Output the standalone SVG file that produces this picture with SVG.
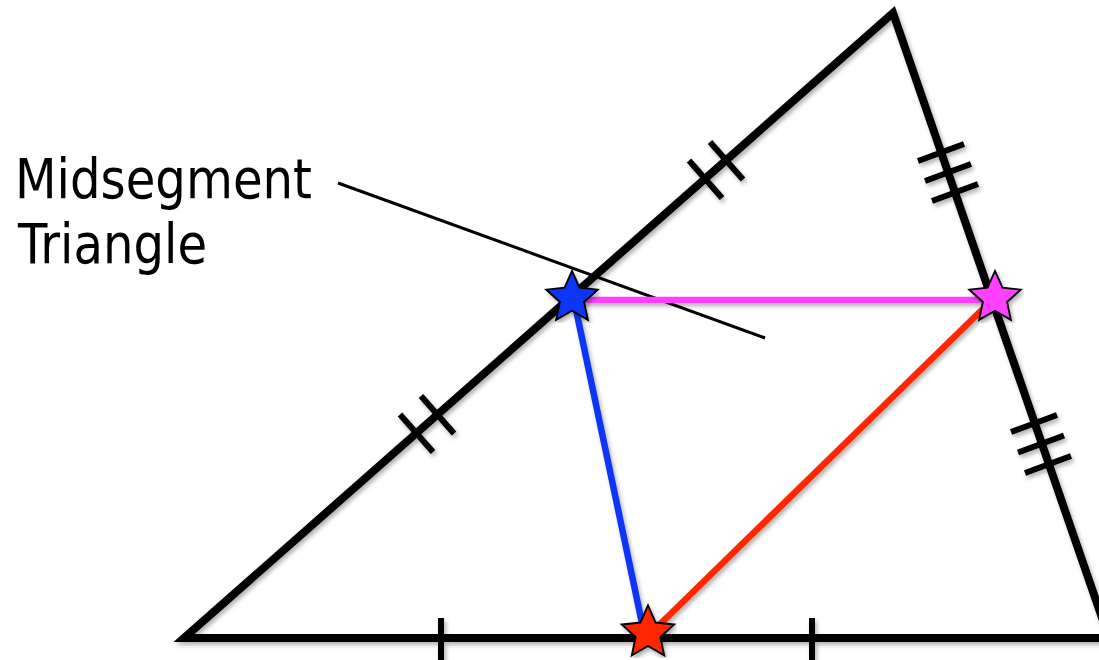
<svg xmlns="http://www.w3.org/2000/svg" xmlns:xlink="http://www.w3.org/1999/xlink" width="1099" height="660" viewBox="0 0 1099 660">
<style>
.edge{fill:none;stroke:#000;stroke-width:8;stroke-linejoin:miter;stroke-linecap:square}
.tick{stroke:#000;stroke-width:6;stroke-linecap:butt}
.seg{fill:none;stroke-width:6.5;stroke-linecap:butt}
.star{stroke:#000;stroke-width:1.8;stroke-linejoin:miter}
.label{font-family:"DejaVu Sans","Liberation Sans",sans-serif;font-size:56px;fill:#000}
</style>
<defs>
<filter id="sh" x="-5%" y="-5%" width="110%" height="110%">
<feDropShadow dx="2" dy="3" stdDeviation="2" flood-color="#000" flood-opacity="0.3"/>
</filter>
<path id="starShape" d="M0,-26 L7.18,-9.89 L24.73,-8.03 L11.63,3.78 L15.28,21.03 L0,12.22 L-15.28,21.03 L-11.63,3.78 L-24.73,-8.03 L-7.18,-9.89 Z"/>
</defs>
<rect width="1099" height="660" fill="#fff"/>
<g id="triangle" filter="url(#sh)">
<path class="edge" d="M184,638 L893,13 L1109,638 Z"/>
<line class="tick" x1="400" y1="414.5" x2="433" y2="452"/>
<line class="tick" x1="421" y1="396" x2="454" y2="433.5"/>
<line class="tick" x1="689" y1="160.5" x2="722" y2="198"/>
<line class="tick" x1="710" y1="142" x2="743" y2="179.5"/>
<line class="tick" x1="918" y1="161" x2="964" y2="144"/>
<line class="tick" x1="925" y1="181" x2="971" y2="164"/>
<line class="tick" x1="932" y1="201" x2="978" y2="184"/>
<line class="tick" x1="1011" y1="432" x2="1057" y2="415"/>
<line class="tick" x1="1018" y1="452.5" x2="1064" y2="435.5"/>
<line class="tick" x1="1025" y1="473" x2="1071" y2="456"/>
<line class="tick" x1="441" y1="618" x2="441" y2="660"/>
<line class="tick" x1="812" y1="618" x2="812" y2="660"/>
</g>
<g id="connectors">
<line x1="338" y1="183" x2="765" y2="338" stroke="#000" stroke-width="3"/>
<g filter="url(#sh)">
<line class="seg" x1="574" y1="300" x2="992" y2="300" stroke="#FF40FF"/>
<line class="seg" x1="574" y1="300" x2="643" y2="628" stroke="#1034F5"/>
<line class="seg" x1="990" y1="302" x2="652" y2="632" stroke="#FF2600"/>
</g>
</g>
<g id="star-blue" filter="url(#sh)"><use xlink:href="#starShape" class="star" fill="#1034F5" transform="translate(572,298) scale(1.04)"/></g>
<g id="star-magenta" filter="url(#sh)"><use xlink:href="#starShape" class="star" fill="#FF40FF" transform="translate(995,298) scale(1.04)"/></g>
<g id="star-red" filter="url(#sh)"><use xlink:href="#starShape" class="star" fill="#FF2600" transform="translate(648,633) scale(1.06)"/></g>
<g id="label">
<text class="label" x="15" y="198" textLength="297" lengthAdjust="spacingAndGlyphs">Midsegment</text>
<text class="label" x="18" y="263" textLength="189" lengthAdjust="spacingAndGlyphs">Triangle</text>
</g>
</svg>
